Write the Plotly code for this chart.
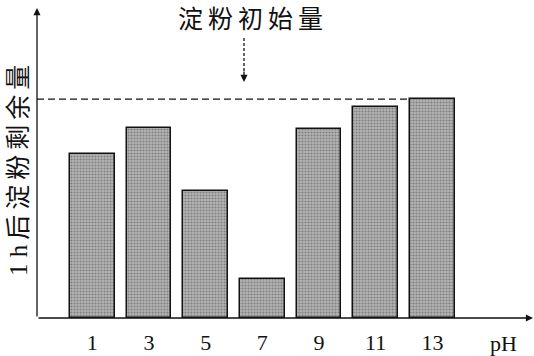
import plotly.graph_objects as go

ph_values = [1, 3, 5, 7, 9, 11, 13]
tick_labels = ["1", "3", "5", "7", "9", "11", "13"]
remaining = [75, 87, 58, 18, 86.5, 96.5, 100]
initial_amount = 100

W, H = 534, 356
L, R, T, B = 37, 1, 8, 38
x_range = [-0.95, 16.55]
y_range = [0, 141.6]
bar_width = 1.58

serif_cjk = "Liberation Serif, 'Noto Sans CJK SC', serif"
cjk = "'Noto Sans CJK SC', sans-serif"
TS = "\u2009"  # thin spacing between CJK glyphs

PW, PH_ = W - L - R, H - T - B


def px(xp):
    return (xp - L) / PW


def py(yp):
    return 1 - (yp - T) / PH_


fig = go.Figure()
fig.add_trace(go.Bar(
    x=ph_values, y=remaining, width=bar_width,
    marker=dict(
        color="#a8a8a8",
        line=dict(color="#111111", width=1.5),
        pattern=dict(shape=".", fgcolor="#4a4a4a", bgcolor="#b4b4b4", size=3, solidity=0.4),
    ),
    showlegend=False, hoverinfo="skip",
))

# dashed line for initial starch amount
fig.add_shape(type="line", xref="paper", yref="y",
              x0=0, x1=(ph_values[-1] - bar_width / 2 - x_range[0]) / (x_range[1] - x_range[0]),
              y0=initial_amount, y1=initial_amount,
              line=dict(color="#111111", width=1.3, dash="7px,4px"))

# axis arrows
fig.add_annotation(xref="paper", yref="paper", x=0, y=1, ax=0, ay=PH_,
                   axref="pixel", ayref="pixel", text="", showarrow=True,
                   arrowhead=2, arrowsize=1.1, arrowwidth=1.3, arrowcolor="#111111")
fig.add_annotation(xref="paper", yref="paper", x=1, y=0, ax=-PW, ay=0,
                   axref="pixel", ayref="pixel", text="", showarrow=True,
                   arrowhead=2, arrowsize=1.1, arrowwidth=1.3, arrowcolor="#111111")

# title and pointer arrow
fig.add_annotation(xref="paper", yref="paper", x=px(250), y=py(17),
                   text=TS.join("淀粉初始量"), showarrow=False, yanchor="middle",
                   xanchor="center", font=dict(family=cjk, size=25, color="#111111"))
fig.add_shape(type="line", xref="paper", yref="paper",
              x0=px(244), x1=px(244), y0=py(38), y1=py(72),
              line=dict(color="#111111", width=1.3, dash="3px,2px"))
fig.add_annotation(xref="paper", yref="paper", x=px(244), y=py(82),
                   ax=0, ay=-12, axref="pixel", ayref="pixel", text="", showarrow=True,
                   arrowhead=2, arrowsize=1.1, arrowwidth=1.3, arrowcolor="#111111")

# pH label
fig.add_annotation(xref="paper", yref="paper", x=px(503), y=py(343),
                   text="pH", showarrow=False, yanchor="middle", xanchor="center",
                   font=dict(family=serif_cjk, size=22, color="#111111"))

# y axis label
fig.add_annotation(xref="paper", yref="paper", x=px(18), y=py(171),
                   text="1 h" + TS + TS.join("后淀粉剩余量"), showarrow=False, textangle=-90,
                   xanchor="center", yanchor="middle",
                   font=dict(family=serif_cjk, size=25, color="#111111"))

fig.update_layout(
    width=W, height=H,
    margin=dict(l=L, r=R, t=T, b=B, pad=0, autoexpand=False),
    paper_bgcolor="white", plot_bgcolor="white",
    bargap=0,
    xaxis=dict(range=x_range, tickvals=ph_values, ticktext=tick_labels,
               showgrid=False, zeroline=False, showline=False, ticks="",
               automargin=False, ticklabelstandoff=9,
               tickfont=dict(family=serif_cjk, size=22, color="#111111")),
    yaxis=dict(range=y_range, showgrid=False, zeroline=False, showline=False,
               automargin=False, showticklabels=False, ticks=""),
)

fig.write_html(
    "out.html",
    config={"displayModeBar": False},
    post_script="document.body.style.margin='0';document.body.style.padding='0';"
                "document.body.style.overflow='hidden';",
)
